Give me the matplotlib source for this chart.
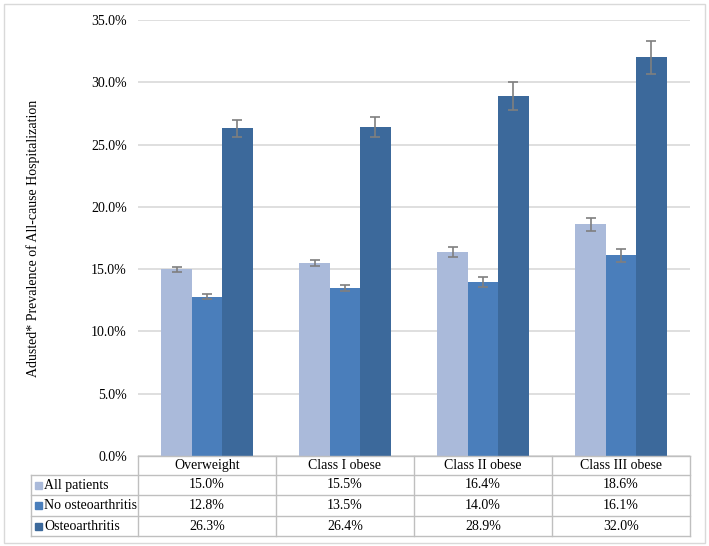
import numpy as np
import matplotlib
matplotlib.use("Agg")
import matplotlib.pyplot as plt
from matplotlib.lines import Line2D
from matplotlib.patches import Rectangle

plt.rcParams['font.family'] = ['Liberation Serif', 'DejaVu Serif']

# figure size in pixels at dpi 100
W, H = 709, 546

categories = ['Overweight', 'Class I obese', 'Class II obese', 'Class III obese']
series = ['All patients', 'No osteoarthritis', 'Osteoarthritis']
all_patients = [15.0, 15.5, 16.4, 18.6]
no_oa = [12.8, 13.5, 14.0, 16.1]
oa = [26.3, 26.4, 28.9, 32.0]
# half-widths of the error bars
all_err = [0.2, 0.24, 0.4, 0.5]
no_oa_err = [0.2, 0.25, 0.4, 0.5]
oa_err = [0.67, 0.82, 1.16, 1.3]
yticks = [0, 5, 10, 15, 20, 25, 30, 35]

colors = ['#AABADA', '#4A7EBB', '#3C699B']
values = [all_patients, no_oa, oa]
errors = [all_err, no_oa_err, oa_err]

FS = 10

# axes box in pixels (left, top, right, bottom)
AX_L, AX_T, AX_R, AX_B = 138, 20, 690, 456


def fx(px):
    return px / W


def fy(py):
    return 1 - py / H


fig = plt.figure(figsize=(W / 100, H / 100), dpi=100)
ax = fig.add_axes([fx(AX_L), fy(AX_B), fx(AX_R) - fx(AX_L), fy(AX_T) - fy(AX_B)])

x = np.arange(len(categories))
bw = 0.22
for i in range(len(series)):
    ax.bar(x + (i - 1) * bw, values[i], bw, color=colors[i], zorder=2,
           yerr=errors[i], ecolor='#7F7F7F', capsize=3.5,
           error_kw=dict(elinewidth=1.2, capthick=1.2))

ax.set_xlim(-0.5, len(categories) - 0.5)
ax.set_ylim(0, 35)
ax.set_yticks(yticks)
ax.set_yticklabels(['%.1f%%' % v for v in yticks], fontsize=FS)
ax.set_xticks([])
ax.tick_params(axis='y', length=0, pad=8)
ax.grid(axis='y', color='#D9D9D9', linewidth=1.2, zorder=0)
for s in ax.spines.values():
    s.set_visible(False)

fig.text(fx(33), fy((AX_T + AX_B) / 2), 'Adusted* Prevalence of All-cause Hospitalization',
         rotation=90, ha='center', va='center', fontsize=FS)

# data table below the axes
line_c = '#BFBFBF'
tab_l = 31
row_y = [456, 475, 495, 516, 536]
col_x = [AX_L + k * (AX_R - AX_L) / len(categories) for k in range(len(categories) + 1)]


def hline(x0, x1, y):
    fig.add_artist(Line2D([fx(x0), fx(x1)], [fy(y), fy(y)], color=line_c, lw=1.0))


def vline(xp, y0, y1):
    fig.add_artist(Line2D([fx(xp), fx(xp)], [fy(y0), fy(y1)], color=line_c, lw=1.0))


hline(AX_L, AX_R, row_y[0])
for y in row_y[1:]:
    hline(tab_l, AX_R, y)
for xp in col_x:
    vline(xp, row_y[0], row_y[-1])
vline(tab_l, row_y[1], row_y[-1])

for j, cat in enumerate(categories):
    cx = (col_x[j] + col_x[j + 1]) / 2
    fig.text(fx(cx), fy((row_y[0] + row_y[1]) / 2), cat, ha='center', va='center', fontsize=FS)

for i, name in enumerate(series):
    cy = (row_y[i + 1] + row_y[i + 2]) / 2
    fig.add_artist(Rectangle((fx(35), fy(cy + 3.5)), fx(7), fy(0) - fy(7),
                             color=colors[i], transform=fig.transFigure))
    fig.text(fx(44), fy(cy), name, ha='left', va='center', fontsize=FS)
    for j in range(len(categories)):
        cx = (col_x[j] + col_x[j + 1]) / 2
        fig.text(fx(cx), fy(cy), '%.1f%%' % values[i][j], ha='center', va='center', fontsize=FS)

# light outer frame
fig.add_artist(Rectangle((fx(4), fy(543)), fx(701), fy(0) - fy(539), fill=False,
                         edgecolor='#D9D9D9', lw=1.0, transform=fig.transFigure))

fig.savefig('out.png', dpi=100)
